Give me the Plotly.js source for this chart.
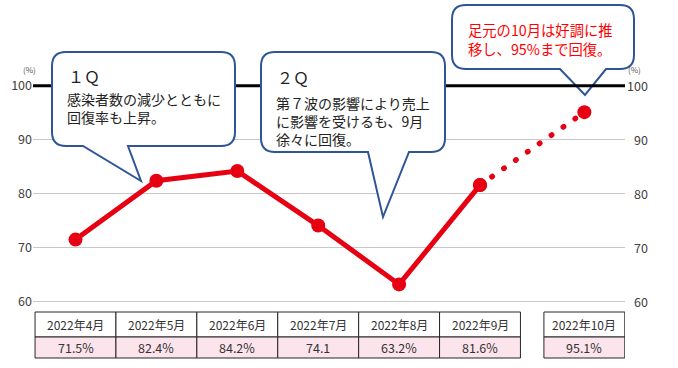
<!DOCTYPE html>
<html><head><meta charset="utf-8">
<script src="https://cdn.plot.ly/plotly-3.0.1.min.js"></script>
<style>html,body{margin:0;padding:0;background:#fff}#chart{width:678px;height:368px}</style>
</head><body><div id="chart"></div>
<script>
// ---- data ----
const months = ['2022年4月','2022年5月','2022年6月','2022年7月','2022年8月','2022年9月','2022年10月'];
const rates = [71.5, 82.4, 84.2, 74.1, 63.2, 81.6, 95.1];
const rateLabels = ['71.5%','82.4%','84.2%','74.1','63.2%','81.6%','95.1%'];
const yTicks = [60, 70, 80, 90, 100];
const note1 = ['感染者数の減少とともに','回復率も上昇。'];
const note2 = ['第７波の影響により売上','に影響を受けるも、9月','徐々に回復。'];
const note3 = ['足元の10月は好調に推','移し、95%まで回復。'];

// ---- geometry helpers (layout only) ----
const W = 678, H = 368;
const L = 33, R = 625, T = 60, B = 362;
const px = x => (x - L) / (R - L);
const py = y => (B - y) / (B - T);
const yv = y => 100 - (y - 85.7) / 5.4;
const xv = x => (x - 75.5) / 80.9;
const GAP_POS = 6.29;
const xPos = months.map((m, i) => i < 6 ? i : GAP_POS);
const FONT = '"Noto Sans CJK JP", "Noto Sans", sans-serif';
const RED = '#e60012';
const BLUE = '#2f5597';

function callout(x0, y0, x1, y1, r, tl, tr, tx, ty) {
  const P = (x, y) => px(x).toFixed(5) + ',' + py(y).toFixed(5);
  return 'M' + P(x0 + r, y0) + ' L' + P(x1 - r, y0) + ' Q' + P(x1, y0) + ' ' + P(x1, y0 + r) +
    ' L' + P(x1, y1 - r) + ' Q' + P(x1, y1) + ' ' + P(x1 - r, y1) +
    ' L' + P(tr, y1) + ' L' + P(tx, ty) + ' L' + P(tl, y1) +
    ' L' + P(x0 + r, y1) + ' Q' + P(x0, y1) + ' ' + P(x0, y1 - r) +
    ' L' + P(x0, y0 + r) + ' Q' + P(x0, y0) + ' ' + P(x0 + r, y0) + ' Z';
}

const shapes = [];
const cs = {type: 'path', xref: 'paper', yref: 'paper', layer: 'above', fillcolor: '#ffffff', line: {color: BLUE, width: 2}};
shapes.push(Object.assign({}, cs, {path: callout(452, 5, 634, 69, 14, 560, 606, 585, 95)}));
shapes.push({type: 'line', xref: 'paper', yref: 'y', x0: 0, x1: 1, y0: 100, y1: 100, layer: 'above', line: {color: '#000', width: 3}});
shapes.push(Object.assign({}, cs, {path: callout(52, 52, 235, 146, 14, 83, 128, 141, 181)}));
shapes.push(Object.assign({}, cs, {path: callout(261, 52, 445, 152, 14, 368, 409, 383, 217)}));

// table
const rowTop = yv(312), rowMid = yv(337), rowBot = yv(358);
const annotations = [];
months.forEach((m, i) => {
  const c = xPos[i];
  shapes.push({type: 'rect', xref: 'x', yref: 'y', x0: c - 0.5, x1: c + 0.5, y0: rowMid, y1: rowTop, fillcolor: '#ffffff', line: {color: '#262626', width: 1}, layer: 'above'});
  shapes.push({type: 'rect', xref: 'x', yref: 'y', x0: c - 0.5, x1: c + 0.5, y0: rowBot, y1: rowMid, fillcolor: '#fce4ec', line: {color: '#262626', width: 1}, layer: 'above'});
  annotations.push({xref: 'x', yref: 'y', x: c, y: (rowTop + rowMid) / 2, text: m, showarrow: false, font: {family: FONT, size: 12, color: '#333'}});
  annotations.push({xref: 'x', yref: 'y', x: c, y: (rowMid + rowBot) / 2, text: rateLabels[i], showarrow: false, font: {family: FONT, size: 12.5, color: '#333'}});
});

// right tick labels and unit labels
yTicks.forEach(v => {
  annotations.push({xref: 'paper', yref: 'y', x: px(650), y: v, xanchor: 'right', text: String(v), showarrow: false, font: {family: FONT, size: 12.5, color: '#404040'}});
});
annotations.push({xref: 'paper', yref: 'paper', x: px(21), y: py(69), yanchor: 'middle', text: '(%)', showarrow: false, font: {family: FONT, size: 8, color: '#555'}});
annotations.push({xref: 'paper', yref: 'paper', x: px(643), y: py(69), yanchor: 'middle', text: '(%)', showarrow: false, font: {family: FONT, size: 8, color: '#555'}});

// callout texts
function textBlock(lines, x, yMid, color, size) {
  annotations.push({xref: 'paper', yref: 'paper', x: px(x), y: py(yMid), xanchor: 'left', yanchor: 'middle', align: 'left', text: lines.join('<br>'), showarrow: false, font: {family: FONT, size: size, color: color}});
}
annotations.push({xref: 'paper', yref: 'paper', x: px(66), y: py(76), xanchor: 'left', yanchor: 'middle', text: '１Ｑ', showarrow: false, font: {family: FONT, size: 16, color: '#222'}});
annotations.push({xref: 'paper', yref: 'paper', x: px(275), y: py(77), xanchor: 'left', yanchor: 'middle', text: '２Ｑ', showarrow: false, font: {family: FONT, size: 16, color: '#222'}});
textBlock(note1, 65, 108, '#222', 14);
textBlock(note2, 274, 120.5, '#222', 14);
textBlock(note3, 466, 39.5, '#ff0000', 14.3);

const solid = {x: xPos.slice(0, 6), y: rates.slice(0, 6), type: 'scatter', mode: 'lines+markers', line: {color: RED, width: 5}, marker: {color: RED, size: 14}, hoverinfo: 'skip', cliponaxis: false};
const dotted = {x: xPos.slice(5), y: rates.slice(5), type: 'scatter', mode: 'lines+markers', line: {color: RED, width: 5.5, dash: '0.5px,14px'}, marker: {color: RED, size: 14}, hoverinfo: 'skip', cliponaxis: false};

const layout = {
  width: W, height: H, margin: {l: L, r: W - R, t: T, b: H - B},
  paper_bgcolor: '#fff', plot_bgcolor: '#fff', showlegend: false,
  xaxis: {range: [xv(L), xv(R)], showgrid: false, zeroline: false, showticklabels: false, ticks: '', fixedrange: true},
  yaxis: {range: [yv(B), yv(T)], tickvals: yTicks, ticktext: yTicks.map(String), showgrid: true, gridcolor: '#c8c8c8', gridwidth: 1.5, zeroline: false, ticks: '', tickfont: {family: FONT, size: 12.5, color: '#404040'}, fixedrange: true},
  shapes: shapes, annotations: annotations
};

Plotly.newPlot('chart', [solid, dotted], layout, {displayModeBar: false, staticPlot: true}).then(() => {
  const traces = document.querySelectorAll('.scatterlayer .trace');
  if (traces[1]) traces[1].querySelectorAll('path.js-line').forEach(p => { p.style.strokeLinecap = 'round'; });
});
</script></body></html>
